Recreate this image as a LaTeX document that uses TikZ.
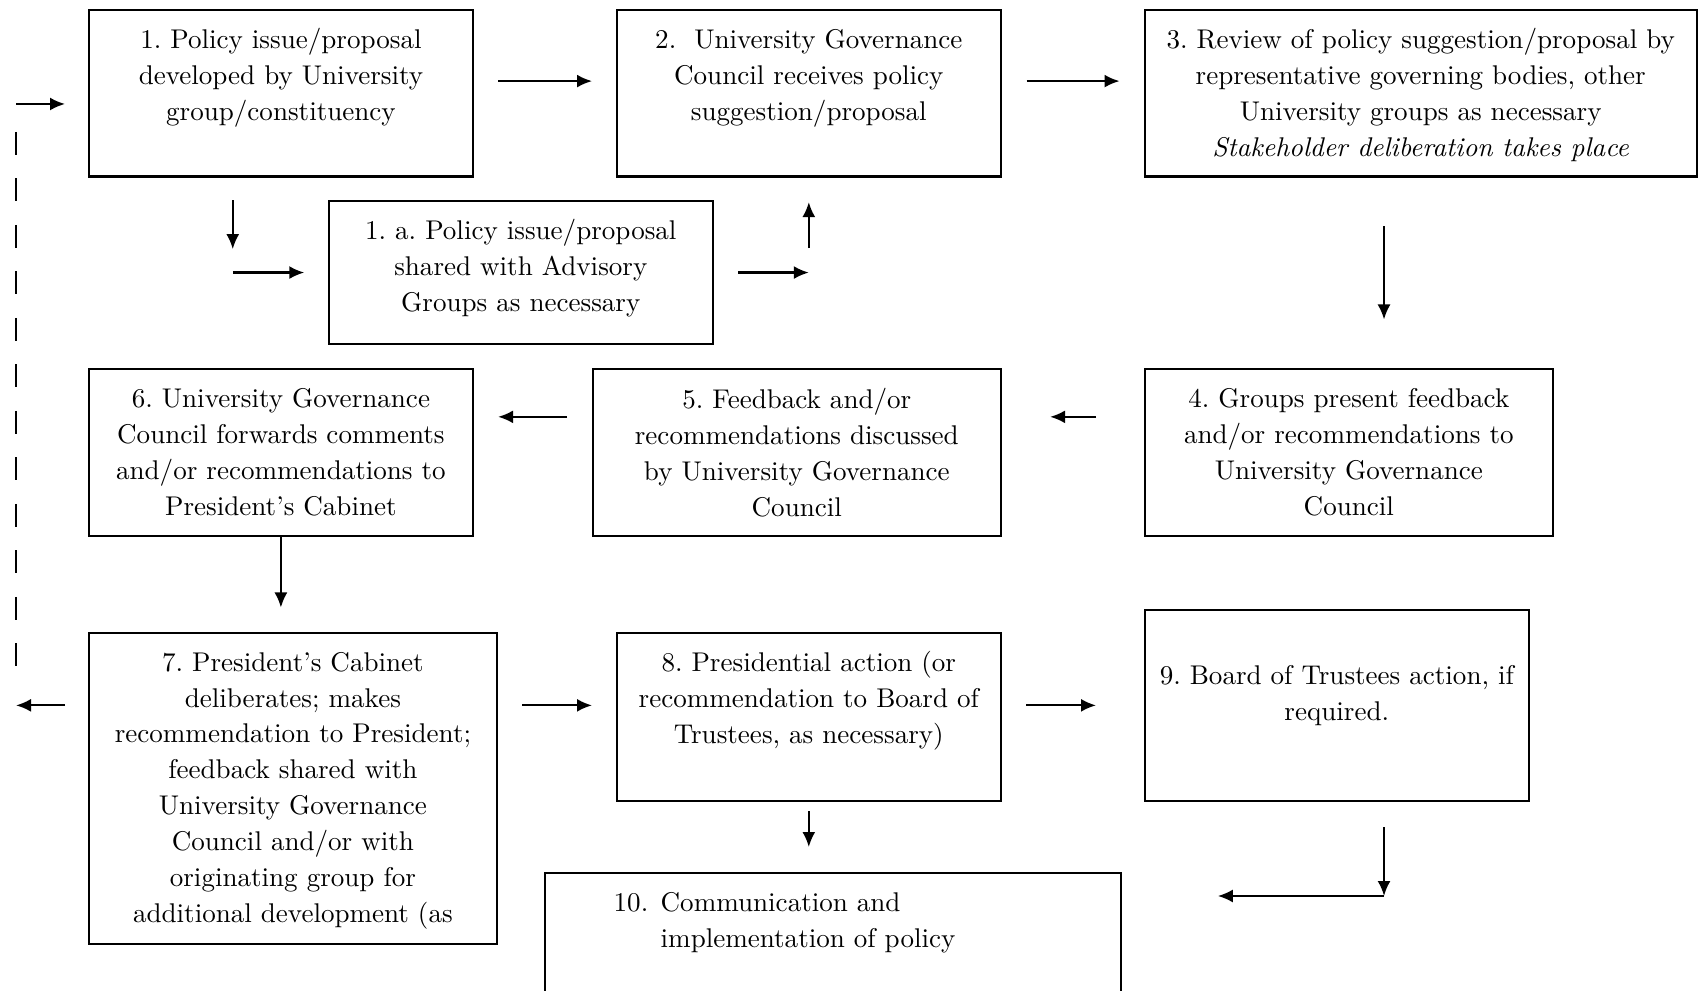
\documentclass[tikz,border=0pt]{standalone}
\usepackage{fontspec}
\setmainfont{lmroman10-regular}[Extension=.otf, ItalicFont=lmroman10-italic]
\usetikzlibrary{positioning,arrows.meta}

\begin{document}
\begin{tikzpicture}[
	box/.style 2 args={draw, line width=0.6pt, inner sep=0pt, anchor=north west, minimum width=#1, minimum height=#2},
	txt/.style={align=center, inner sep=0pt, font=\fontsize{7.7}{10.2}\selectfont\frenchspacing},
	arr/.style={-{Latex[length=1.5mm,width=1.3mm]}, line width=0.6pt},
	back/.style={line width=0.6pt, dash pattern=on 2.3mm off 2.35mm}
]
	\useasboundingbox (0, 0) rectangle (16.98, 9.90);
	\clip (0, 0) rectangle (16.98, 9.90);

	\node[box={3.844cm}{1.667cm}] (b1) at (0.877, 9.813) {};
	\node[box={3.835cm}{1.667cm}] (b2) at (6.16, 9.813) {};
	\node[box={5.523cm}{1.667cm}] (b3) at (11.435, 9.813) {};
	\node[box={3.835cm}{1.43cm}] (b1a) at (3.28, 7.90) {};
	\node[box={3.843cm}{1.67cm}] (b6) at (0.877, 6.22) {};
	\node[box={4.075cm}{1.67cm}] (b5) at (5.92, 6.22) {};
	\node[box={4.085cm}{1.67cm}] (b4) at (11.435, 6.22) {};
	\node[box={4.083cm}{3.11cm}] (b7) at (0.877, 3.58) {};
	\node[box={3.835cm}{1.68cm}] (b8) at (6.16, 3.58) {};
	\node[box={3.845cm}{1.914cm}] (b9) at (11.435, 3.814) {};
	\node[box={5.761cm}{2.0cm}] (b10) at (5.436, 1.18) {};

	\node[txt, below=1.9mm of b1.north] (t1) {1. Policy issue/proposal\\developed by University\\group/constituency};
	\node[txt, below=2.0mm of b2.north] (t2) {2.\ \ University Governance\\Council receives policy\\suggestion/proposal};
	\node[txt, below=1.9mm of b3.north] (t3) {3. Review of policy suggestion/proposal by\\representative governing bodies, other\\University groups as necessary\\\textit{Stakeholder deliberation takes place}};
	\node[txt, below=1.9mm of b1a.north] (t1a) {1. a. Policy issue/proposal\\shared with Advisory\\Groups as necessary};
	\node[txt, below=2.0mm of b4.north] (t4) {4. Groups present feedback\\and/or recommendations to\\University Governance\\Council};
	\node[txt, below=1.95mm of b5.north] (t5) {5. Feedback and/or\\recommendations discussed\\by University Governance\\Council};
	\node[txt, below=2.0mm of b6.north] (t6) {6. University Governance\\Council forwards comments\\and/or recommendations to\\President's Cabinet};
	\node[txt, below=1.95mm of b7.north] (t7) {7. President's Cabinet\\deliberates; makes\\recommendation to President;\\feedback shared with\\University Governance\\Council and/or with\\originating group for\\additional development (as};
	\node[txt, below=1.9mm of b8.north] (t8) {8. Presidential action (or\\recommendation to Board of\\Trustees, as necessary)};
	\node[txt, below=5.6mm of b9.north] (t9) {9. Board of Trustees action, if\\required.};
	\node[txt, align=left, below right=2.0mm and 6.94mm of b10.north west] (t10) {\makebox[4.7mm][l]{10.}Communication and\\\hspace*{4.7mm}implementation of policy};

	\coordinate (bend) at (13.84, 0.94);
	\coordinate (ret top) at (0.16, 8.86);
	\coordinate (ret bot) at (ret top |- b9.west);

	\draw[arr, shorten <=2.4mm, shorten >=2.4mm] ([yshift=1.2mm]b1.east) -- ([yshift=1.2mm]b2.west);
	\draw[arr, shorten <=2.5mm, shorten >=2.4mm] ([yshift=1.2mm]b2.east) -- ([yshift=1.2mm]b3.west);
	\draw[arr, shorten <=2.26mm] ([xshift=-4.82mm]b1.south) -- ++(0, -7.16mm);
	\draw[arr, shorten >=2.37mm] ([xshift=-4.82mm]b1.south |- b1a.west) -- (b1a.west);
	\draw[arr, shorten <=2.45mm] (b1a.east) -- (b2.south |- b1a.west);
	\draw[arr, shorten >=2.46mm] ([yshift=2.45mm]b2.south |- b1a.west) -- (b2.south);
	\draw[arr, shorten <=4.86mm, shorten >=4.85mm] (b3.south -| bend) -- (b4.north -| bend);
	\draw[arr, shorten <=4.75mm, shorten >=4.85mm] ([yshift=3.57mm]b4.west) -- ([yshift=3.57mm]b5.east);
	\draw[arr, shorten <=2.5mm, shorten >=2.4mm] ([yshift=3.57mm]b5.west) -- ([yshift=3.57mm]b6.east);
	\draw[arr, shorten >=2.45mm] (b6.south) -- (b6.south |- b7.north);
	\draw[arr, shorten <=2.4mm, shorten >=2.4mm] (b7.east |- b9.west) -- (b8.west |- b9.west);
	\draw[arr, shorten <=2.45mm, shorten >=4.75mm] (b8.east |- b9.west) -- (b9.west);
	\draw[arr, shorten <=0.9mm, shorten >=2.5mm] (b8.south) -- (b8.south |- b10.north);
	\draw[arr, shorten <=2.5mm] (b9.south -| bend) -- (bend);
	\draw[arr, shorten >=9.6mm] (bend) -- (bend -| b10.east);

	\draw[arr, shorten >=2.27mm] (ret top) -- (ret top -| b1.west);
	\draw[back] ([yshift=-2.8mm]ret top) -- ([yshift=2.4mm]ret bot);
	\draw[arr, shorten <=2.27mm] (ret bot -| b7.west) -- (ret bot);

\end{tikzpicture}
\end{document}
